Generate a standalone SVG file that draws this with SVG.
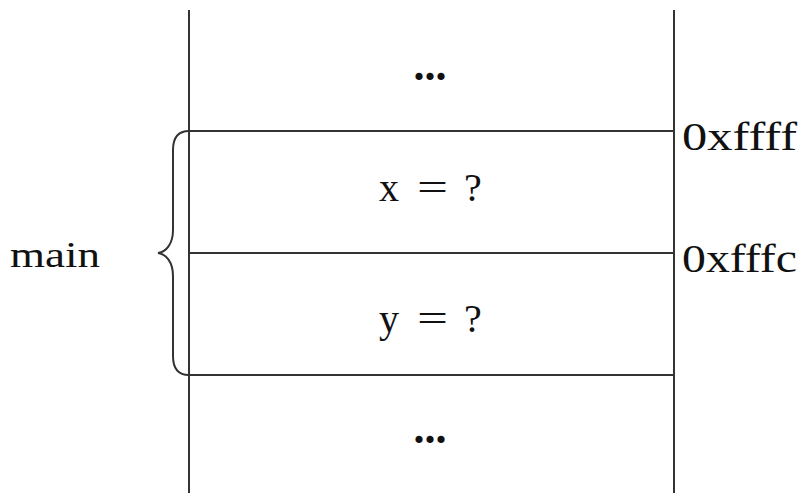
<svg xmlns="http://www.w3.org/2000/svg" width="799" height="493" viewBox="0 0 799 493">
<style>
.ln{stroke:#333;stroke-width:2;fill:none}
.t{font-family:"Liberation Serif","Times New Roman",serif;fill:#111}
.c{font-size:40px}
.d{font-size:44px;font-weight:bold}
</style>
<rect width="799" height="493" fill="#fff"/>
<g id="connectors">
<line class="ln" x1="189" y1="10" x2="189" y2="493"/>
<line class="ln" x1="674" y1="10" x2="674" y2="493"/>
<line class="ln" x1="189" y1="131" x2="674" y2="131"/>
<line class="ln" x1="189" y1="253" x2="674" y2="253"/>
<line class="ln" x1="189" y1="375" x2="674" y2="375"/>
<path class="ln" d="M189 131 C178 131 173 138 173 150 L173 230 C173 244 166 252 158 253 C166 254 173 262 173 276 L173 356 C173 368 178 375 189 375" stroke-width="2.2"/>
</g>
<g id="cell-top"><text class="t d" x="430" y="80" text-anchor="middle">...</text></g>
<g id="cell-x"><text class="t c" x="379" y="201">x</text><text class="t c" x="417" y="201" textLength="31" lengthAdjust="spacingAndGlyphs">=</text><text class="t c" x="464" y="201">?</text></g>
<g id="cell-y"><text class="t c" x="379" y="332">y</text><text class="t c" x="417" y="332" textLength="31" lengthAdjust="spacingAndGlyphs">=</text><text class="t c" x="464" y="332">?</text></g>
<g id="cell-bottom"><text class="t d" x="430" y="443" text-anchor="middle">...</text></g>
<g id="label-main"><text class="t" x="10" y="267" font-size="36" textLength="90" lengthAdjust="spacingAndGlyphs">main</text></g>
<g id="addr-ffff"><text class="t" x="682" y="150" font-size="40" textLength="115" lengthAdjust="spacingAndGlyphs">0xffff</text></g>
<g id="addr-fffc"><text class="t" x="682" y="272" font-size="40" textLength="115" lengthAdjust="spacingAndGlyphs">0xfffc</text></g>
</svg>
